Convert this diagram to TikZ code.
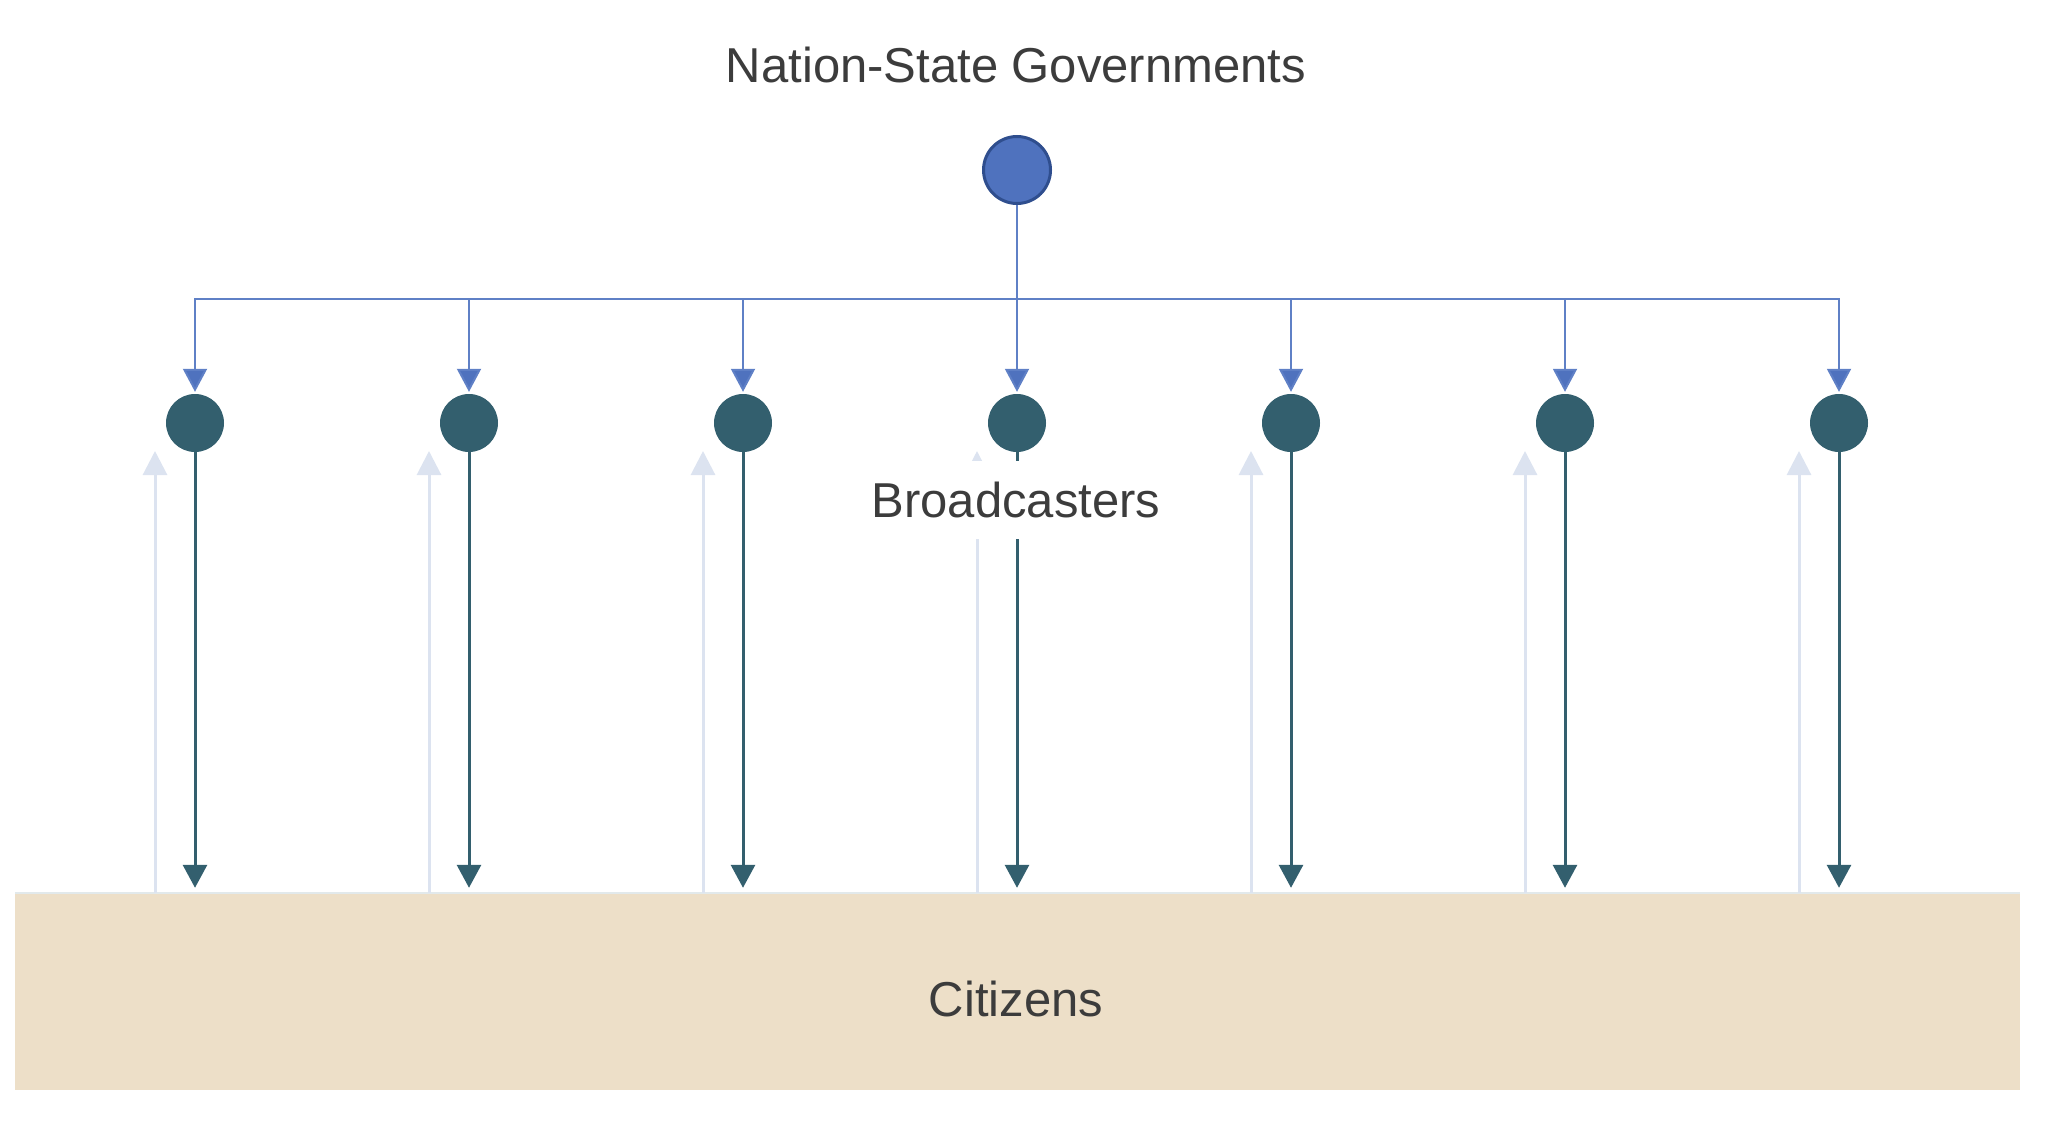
\documentclass[tikz,border=0pt]{standalone}
\usepackage{fontspec}
\setmainfont{Liberation Sans}
\usetikzlibrary{arrows.meta}
\definecolor{govblue}{HTML}{4F72BE}
\definecolor{govborder}{HTML}{2F4E8E}
\definecolor{busblue}{HTML}{5F80C6}
\definecolor{bteal}{HTML}{335F6E}
\definecolor{ghost}{HTML}{DCE3F0}
\definecolor{sand}{HTML}{EDDFC8}
\definecolor{sandedge}{HTML}{E2E9EB}
\definecolor{txt}{HTML}{3C3C3C}
\begin{document}
\begin{tikzpicture}[x=1pt,y=-1pt,
  lbl/.style={text=txt,font=\fontsize{49}{58}\selectfont,inner sep=0pt},
  govnode/.style={circle,fill=govblue,draw=govborder,line width=3pt,minimum size=67pt,inner sep=0pt},
  bnode/.style={circle,fill=bteal,minimum size=58pt,inner sep=0pt},
  citbox/.style={rectangle,fill=sand,minimum width=2005pt,minimum height=197pt,inner sep=0pt},
  bluearrow/.style={draw=busblue,line width=2pt,-{Triangle[width=24pt,length=23pt,fill=govblue]},shorten >=2pt},
  darkarrow/.style={draw=bteal,line width=3pt,-{Triangle[width=24pt,length=23pt]},shorten >=5pt},
  ghostarrow/.style={draw=ghost,line width=3pt,-{Triangle[width=24pt,length=24pt]}},
  ]
\useasboundingbox (0,0) rectangle (2048,1123);
\node[citbox] (cit) at (1017.5,991.5) {};
\draw[sandedge,line width=2pt] (cit.north west) -- (cit.north east);
\node[lbl] (citlabel) at (1016,999) {Citizens};
\node[lbl] (title) at (1016,65) {Nation-State Governments};
\node[govnode] (gov) at (1017,170) {};
\coordinate (bus) at (1017,299);
\foreach \i in {0,...,6}{
  \pgfmathsetmacro\xx{195+274*\i}
  \pgfmathsetmacro\ux{155+274*\i}
  \node[bnode] (b\i) at (\xx,423) {};
  \coordinate (u\i) at (\ux,451);
  \draw[ghostarrow] (u\i |- cit.north) -- (u\i);
  \draw[darkarrow] (b\i.south) -- (b\i.south |- cit.north);
  \draw[bluearrow] (gov.south) -- (bus) -| (b\i.north);
}
\node[lbl,fill=white,minimum height=78pt,inner xsep=10pt] (bcast) at (1016,500) {Broadcasters};
\end{tikzpicture}
\end{document}
